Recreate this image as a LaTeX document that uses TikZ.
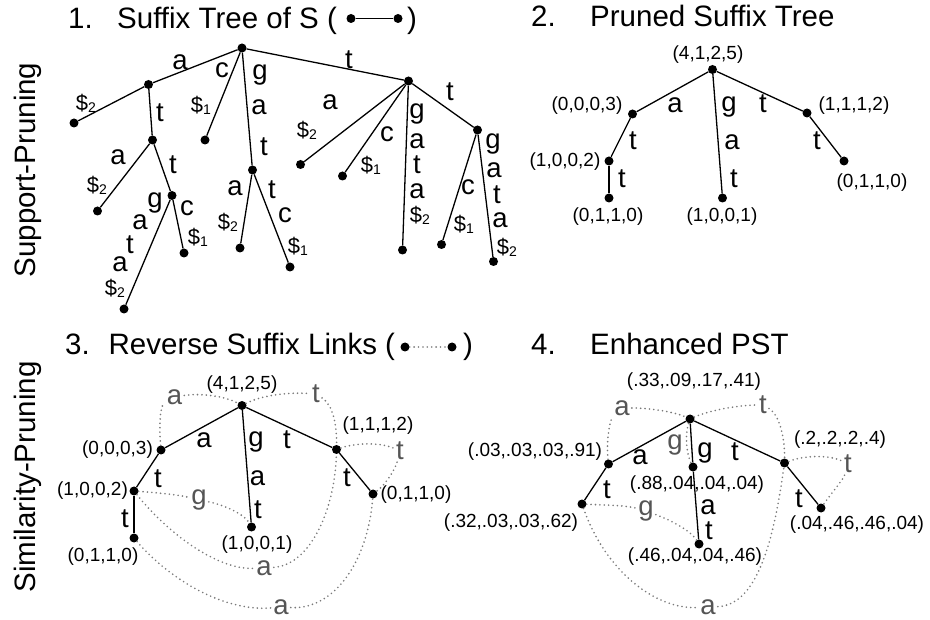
\documentclass[tikz,border=0pt]{standalone}
\usepackage{fontspec}
\setmainfont{Liberation Sans}
\newcommand\ftitle{\fontsize{29.5}{30}\selectfont}
\newcommand\flab{\fontsize{27.5}{28}\selectfont}
\newcommand\fnum{\fontsize{19}{20}\selectfont}
\newcommand\dsub[1]{{\fontsize{22}{22}\selectfont\$}\raisebox{-2pt}{\fontsize{14}{14}\selectfont #1}}
\definecolor{linkgray}{HTML}{7A7A7A}
\definecolor{labgray}{HTML}{555555}
\tikzset{
  pt/.style={circle,fill=black,inner sep=0pt,minimum size=9pt},
  tedge/.style={line width=1.3pt},
  lab/.style={inner sep=0pt,font=\flab},
  dl/.style={inner sep=0pt},
  num/.style={inner sep=0pt,font=\fnum},
  glab/.style={inner sep=2pt,font=\flab,text=labgray},
  link/.style={draw=linkgray,line width=1.8pt,line cap=round,dash pattern=on 0pt off 4.4pt},
  ttl/.style={inner sep=0pt,font=\ftitle,anchor=base west},
  side/.style={inner sep=0pt,font=\ftitle,rotate=90},
}
\begin{document}
\begin{tikzpicture}[x=1pt,y=-1pt]
\useasboundingbox[fill=white] (0,0) rectangle (930,620);

% ---------- side captions ----------
\node[side] (s1) at (27.5,170) {Support-Pruning};
\node[side] (s2) at (27.5,477) {Similarity-Pruning};

% ---------- 1. suffix tree ----------
\node[ttl] (n1) at (68,29) {1.};
\node[ttl] (t1) at (117,29) {Suffix Tree of S (};
\node[pt] (k1a) at (351,18.5) {};
\node[pt] (k1b) at (398,18.5) {};
\draw[line width=1.5pt] (k1a) -- (k1b);
\node[ttl] (c1) at (407,29) {)};

\node[pt] (r1) at (242,48) {};
\node[pt] (n1a) at (148.5,84.5) {};
\node[pt] (l1a) at (74,123) {};
\node[pt] (n1at) at (152.5,140) {};
\node[pt] (l1c) at (205,140) {};
\node[pt] (n1gat) at (252.5,170) {};
\node[pt] (n1t) at (408.5,81) {};
\node[pt] (l1ata) at (97.5,211) {};
\node[pt] (n1att) at (172,195.5) {};
\node[pt] (l1attg) at (124,309) {};
\node[pt] (l1attc) at (184,253) {};
\node[pt] (l1gata) at (240,248) {};
\node[pt] (l1gatt) at (290,267) {};
\node[pt] (l1ta) at (300.5,164.5) {};
\node[pt] (l1tc) at (342.5,176) {};
\node[pt] (l1tg) at (402.5,250) {};
\node[pt] (n1tt) at (477.5,130) {};
\node[pt] (l1ttc) at (441.5,244.5) {};
\node[pt] (l1ttg) at (493.5,261.5) {};
\foreach \a/\b in {r1/n1a,n1a/l1a,n1a/n1at,r1/l1c,r1/n1gat,r1/n1t,n1at/l1ata,n1at/n1att,
  n1att/l1attg,n1att/l1attc,n1gat/l1gata,n1gat/l1gatt,n1t/l1ta,n1t/l1tc,n1t/l1tg,n1t/n1tt,
  n1tt/l1ttc,n1tt/l1ttg}
  \draw[tedge] (\a) -- (\b);

\node[lab] (e1) at (180,62) {a};
\node[lab] (e2) at (222,70) {c};
\node[dl] (e3) at (201,105) {\dsub1};
\node[lab] (e4) at (260,75) {g};
\node[lab] (e5) at (259,107) {a};
\node[lab] (e6) at (264,147) {t};
\node[lab] (e7) at (349,60) {t};
\node[dl] (e8) at (86,103) {\dsub2};
\node[lab] (e9) at (160,113) {t};
\node[lab] (e10) at (118,157) {a};
\node[dl] (e11) at (97,185) {\dsub2};
\node[lab] (e12) at (173,165) {t};
\node[lab] (e13) at (155,203) {g};
\node[lab] (e14) at (140,222) {a};
\node[lab] (e15) at (130,245) {t};
\node[lab] (e16) at (120,264) {a};
\node[dl] (e17) at (115,288) {\dsub2};
\node[lab] (e18) at (187,208) {c};
\node[dl] (e19) at (198,237) {\dsub1};
\node[lab] (e20) at (235,188) {a};
\node[dl] (e21) at (228,222) {\dsub2};
\node[lab] (e22) at (272,190) {t};
\node[lab] (e23) at (285,215) {c};
\node[dl] (e24) at (298,246) {\dsub1};
\node[lab] (e25) at (330,102) {a};
\node[dl] (e26) at (307,130) {\dsub2};
\node[lab] (e27) at (387,134) {c};
\node[dl] (e28) at (371,165) {\dsub1};
\node[lab] (e29) at (417,114) {g};
\node[lab] (e30) at (417,141) {a};
\node[lab] (e31) at (417,165) {t};
\node[lab] (e32) at (417,191) {a};
\node[dl] (e33) at (420,215) {\dsub2};
\node[lab] (e34) at (450,92) {t};
\node[lab] (e35) at (468,187) {c};
\node[dl] (e36) at (464,224) {\dsub1};
\node[lab] (e37) at (493,144) {g};
\node[lab] (e38) at (494,170) {a};
\node[lab] (e39) at (497,195) {t};
\node[lab] (e40) at (500,220) {a};
\node[dl] (e41) at (507,247) {\dsub2};

% ---------- 2. pruned suffix tree ----------
\node[ttl] (n2) at (531,26.5) {2.};
\node[ttl] (t2) at (590,26.5) {Pruned Suffix Tree};

\node[pt] (r2) at (712.5,69.5) {};
\node[pt] (n2a) at (632.5,114) {};
\node[pt] (n2t) at (807,113) {};
\node[pt] (n2at) at (609,161) {};
\node[pt] (l2tt) at (844,161) {};
\node[pt] (l2att) at (609,198) {};
\node[pt] (l2gat) at (722.5,198) {};
\foreach \a/\b in {r2/n2a,r2/n2t,r2/l2gat,n2a/n2at,n2at/l2att,n2t/l2tt}
  \draw[tedge] (\a) -- (\b);

\node[num] (v21) at (708,55) {(4,1,2,5)};
\node[num] (v22) at (587,106) {(0,0,0,3)};
\node[num] (v23) at (854,106) {(1,1,1,2)};
\node[num] (v24) at (565,162) {(1,0,0,2)};
\node[num] (v25) at (872,183) {(0,1,1,0)};
\node[num] (v26) at (608,217) {(0,1,1,0)};
\node[num] (v27) at (722,217) {(1,0,0,1)};

\node[lab] (f1) at (675,105) {a};
\node[lab] (f2) at (729,107) {g};
\node[lab] (f3) at (763,104) {t};
\node[lab] (f4) at (633,141) {t};
\node[lab] (f5) at (732,142) {a};
\node[lab] (f6) at (817,141) {t};
\node[lab] (f7) at (622,179) {t};
\node[lab] (f8) at (734,179) {t};

% ---------- 3. reverse suffix links ----------
\node[ttl] (n3) at (65,355) {3.};
\node[ttl] (t3) at (108.5,355) {Reverse Suffix Links (};
\node[pt] (k3a) at (405,347) {};
\node[pt] (k3b) at (452,347) {};
\draw[link] (k3a) -- (k3b);
\node[ttl] (c3) at (463,355) {)};

\node[pt] (r3) at (242,405.5) {};
\node[pt] (n3a) at (161,450) {};
\node[pt] (n3t) at (336.5,449.5) {};
\node[pt] (n3at) at (134,491) {};
\node[pt] (l3att) at (134,538) {};
\node[pt] (l3gat) at (251.5,527) {};
\node[pt] (l3tt) at (373,494) {};
\foreach \a/\b in {r3/n3a,r3/n3t,r3/l3gat,n3a/n3at,n3at/l3att,n3t/l3tt}
  \draw[tedge] (\a) -- (\b);

\node[num] (v31) at (242,385) {(4,1,2,5)};
\node[num] (v32) at (117.5,450) {(0,0,0,3)};
\node[num] (v33) at (378,426) {(1,1,1,2)};
\node[num] (v34) at (92.5,491) {(1,0,0,2)};
\node[num] (v35) at (103,557) {(0,1,1,0)};
\node[num] (v36) at (257,545) {(1,0,0,1)};
\node[num] (v37) at (416,495) {(0,1,1,0)};

\node[lab] (h1) at (204,440) {a};
\node[lab] (h2) at (256,442) {g};
\node[lab] (h3) at (287,440) {t};
\node[lab] (h4) at (158,479) {t};
\node[lab] (h5) at (257.5,478) {a};
\node[lab] (h6) at (258,510) {t};
\node[lab] (h7) at (125,519) {t};
\node[lab] (h8) at (347,478) {t};

\node[glab] (g3a) at (174.5,397) {a};
\node[glab] (g3t) at (316,394) {t};
\node[glab] (g3t2) at (400,451) {t};
\node[glab] (g3g) at (199,500) {g};
\node[glab] (g3a2) at (264,568) {a};
\node[glab] (g3a3) at (281,607) {a};

\draw[link] (n3a) .. controls (159,425) and (160,405) .. (g3a);
\draw[link] (g3a) .. controls (200,393) and (225,396) .. (r3);
\draw[link] (r3) .. controls (262,395) and (290,392) .. (g3t);
\draw[link] (g3t) .. controls (333,405) and (337,425) .. (n3t);
\draw[link] (n3t) .. controls (355,443) and (380,442) .. (g3t2);
\draw[link] (g3t2) .. controls (395,470) and (385,485) .. (l3tt);
\draw[link] (n3at) .. controls (160,493) and (180,495) .. (g3g);
\draw[link] (g3g) .. controls (225,505) and (245,515) .. (l3gat);
\draw[link] (n3at) .. controls (165,530) and (215,570) .. (g3a2);
\draw[link] (g3a2) .. controls (310,565) and (335,510) .. (n3t);
\draw[link] (l3att) .. controls (170,580) and (225,612) .. (g3a3);
\draw[link] (g3a3) .. controls (335,610) and (368,560) .. (l3tt);

% ---------- 4. enhanced PST ----------
\node[ttl] (n4) at (531,355) {4.};
\node[ttl] (t4) at (590,355) {Enhanced PST};

\node[pt] (r4) at (690,419) {};
\node[pt] (n4a) at (608.5,464) {};
\node[pt] (n4t) at (784.5,463) {};
\node[pt] (n4g) at (693,467) {};
\node[pt] (n4at) at (582,504) {};
\node[pt] (l4gat) at (699,544) {};
\node[pt] (l4tt) at (821,508) {};
\foreach \a/\b in {r4/n4a,r4/n4t,r4/n4g,n4g/l4gat,n4a/n4at,n4t/l4tt}
  \draw[tedge] (\a) -- (\b);

\node[num] (v41) at (694,382) {(.33,.09,.17,.41)};
\node[num] (v42) at (535,452) {(.03,.03,.03,.91)};
\node[num] (v43) at (840,440) {(.2,.2,.2,.4)};
\node[num] (v44) at (697,485) {(.88,.04,.04,.04)};
\node[num] (v45) at (511,523) {(.32,.03,.03,.62)};
\node[num] (v46) at (695,557) {(.46,.04,.04,.46)};
\node[num] (v47) at (857,525) {(.04,.46,.46,.04)};

\node[lab] (i1) at (640,457) {a};
\node[lab] (i2) at (705,453) {g};
\node[lab] (i3) at (735,452) {t};
\node[lab] (i4) at (607,490) {t};
\node[lab] (i5) at (708,507) {a};
\node[lab] (i6) at (709,531) {t};
\node[lab] (i7) at (799,499) {t};

\node[glab] (g4a) at (622,408) {a};
\node[glab] (g4t) at (763,405) {t};
\node[glab] (g4g) at (675,445) {g};
\node[glab] (g4t2) at (848,464) {t};
\node[glab] (g4g2) at (646,511) {g};
\node[glab] (g4a2) at (708,607) {a};

\draw[link] (n4a) .. controls (606,440) and (610,420) .. (g4a);
\draw[link] (g4a) .. controls (650,408) and (675,412) .. (r4);
\draw[link] (r4) .. controls (710,410) and (740,405) .. (g4t);
\draw[link] (g4t) .. controls (780,415) and (785,440) .. (n4t);
\draw[link] (r4) .. controls (685,435) and (686,452) .. (n4g);
\draw[link] (n4t) .. controls (805,455) and (830,455) .. (g4t2);
\draw[link] (g4t2) .. controls (843,480) and (830,495) .. (l4tt);
\draw[link] (n4at) .. controls (600,505) and (625,505) .. (g4g2);
\draw[link] (g4g2) .. controls (670,520) and (690,530) .. (l4gat);
\draw[link] (n4at) .. controls (605,570) and (655,610) .. (g4a2);
\draw[link] (g4a2) .. controls (760,605) and (775,530) .. (n4t);
\end{tikzpicture}
\end{document}
